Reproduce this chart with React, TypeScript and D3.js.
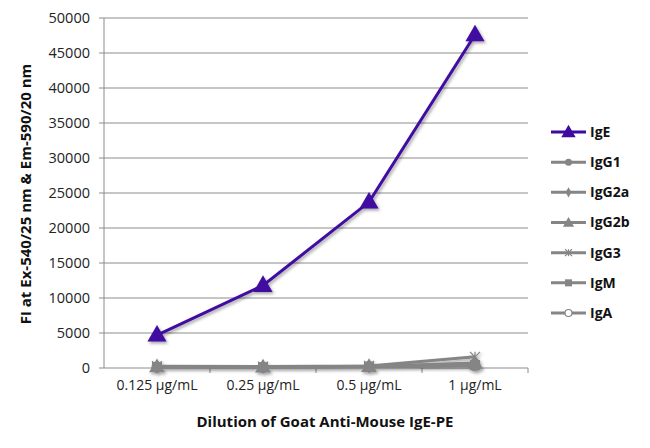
import * as React from "react"
import * as d3 from "d3"

const doses = ["0.125 µg/mL", "0.25 µg/mL", "0.5 µg/mL", "1 µg/mL"]
const igE = [4700, 11800, 23700, 47600]
const igG1 = [200, 150, 250, 500]
const igG2a = [150, 120, 200, 600]
const igG2b = [180, 140, 220, 700]
const igG3 = [250, 200, 300, 1600]
const igM = [150, 120, 200, 400]
const igA = [100, 100, 150, 300]
const yTicks = [0, 5000, 10000, 15000, 20000, 25000, 30000, 35000, 40000, 45000, 50000]

type Marker = "triangle" | "circle" | "diamond" | "star" | "square" | "ring"

const series: { name: string; values: number[]; color: string; marker: Marker }[] = [
  { name: "IgE", values: igE, color: "#3f0aa0", marker: "triangle" },
  { name: "IgG1", values: igG1, color: "#858585", marker: "circle" },
  { name: "IgG2a", values: igG2a, color: "#858585", marker: "diamond" },
  { name: "IgG2b", values: igG2b, color: "#858585", marker: "triangle" },
  { name: "IgG3", values: igG3, color: "#858585", marker: "star" },
  { name: "IgM", values: igM, color: "#858585", marker: "square" },
  { name: "IgA", values: igA, color: "#858585", marker: "ring" },
]

const font = "'Open Sans', 'Noto Sans', sans-serif"

function MarkerShape({ kind, x, y, color, size }: { kind: Marker; x: number; y: number; color: string; size: number }) {
  const s = size
  if (kind === "triangle") {
    const p = d3.symbol(d3.symbolTriangle, s * s * 1.1)()
    return <path d={p!} transform={`translate(${x},${y + 1})`} fill={color} />
  }
  if (kind === "circle") return <circle cx={x} cy={y} r={s / 2} fill={color} />
  if (kind === "diamond") {
    const p = d3.symbol(d3.symbolDiamond, s * s * 0.6)()
    return <path d={p!} transform={`translate(${x},${y})`} fill={color} />
  }
  if (kind === "square") return <rect x={x - s / 2} y={y - s / 2} width={s} height={s} fill={color} />
  if (kind === "ring") return <circle cx={x} cy={y} r={s / 2} fill="#fff" stroke={color} strokeWidth={1.2} />
  const r = s / 2
  return (
    <g stroke={color} strokeWidth={1.2}>
      <line x1={x - r} y1={y - r} x2={x + r} y2={y + r} />
      <line x1={x - r} y1={y + r} x2={x + r} y2={y - r} />
      <line x1={x} y1={y - r} x2={x} y2={y + r} />
    </g>
  )
}

export default function App() {
  const width = 650
  const height = 448
  const left = 104
  const right = 528
  const top = 18
  const bottom = 368

  const x = d3.scaleBand<string>().domain(doses).range([left, right])
  const y = d3.scaleLinear().domain([0, 50000]).range([bottom, top])
  const cx = (d: string) => (x(d) ?? 0) + x.bandwidth() / 2

  const line = d3
    .line<number>()
    .x((_, i) => cx(doses[i]))
    .y((v) => y(v))

  // draw the grey series back to front so the ring sits underneath
  const grays = series.slice(1).reverse()
  const legendY = d3.scalePoint<string>().domain(series.map((s) => s.name)).range([132, 313])

  return (
    <svg width={width} height={height} style={{ position: "absolute", left: 0, top: 0 }} fontFamily={font}>
      <defs>
        <filter id="shadow" x="-10%" y="-10%" width="120%" height="130%">
          <feDropShadow dx="1.5" dy="2" stdDeviation="1.5" floodColor="#000" floodOpacity="0.35" />
        </filter>
      </defs>
      <rect width={width} height={height} fill="#fff" />
      {yTicks.map((t) => (
        <g key={t}>
          <line x1={left - 5} x2={right} y1={y(t)} y2={y(t)} stroke="#8c8c8c" strokeWidth={1} />
          <text x={left - 14} y={y(t)} dy="0.35em" textAnchor="end" fontSize={14.5} fill="#222">
            {t}
          </text>
        </g>
      ))}
      <line x1={left} x2={left} y1={top} y2={bottom} stroke="#8c8c8c" />
      {doses.map((d, i) => (
        <g key={d}>
          <line x1={(x(d) ?? 0) + x.bandwidth()} x2={(x(d) ?? 0) + x.bandwidth()} y1={bottom} y2={bottom + 5} stroke="#8c8c8c" />
          <text x={cx(d)} y={bottom + 22} textAnchor="middle" fontSize={14} fill="#222">
            {doses[i]}
          </text>
        </g>
      ))}
      <text x={325} y={427} textAnchor="middle" fontSize={15} fontWeight="bold" fill="#111">
        Dilution of Goat Anti-Mouse IgE-PE
      </text>
      <text transform={`translate(31,${(top + bottom) / 2 + 1}) rotate(-90)`} textAnchor="middle" fontSize={15} fontWeight="bold" fill="#111">
        FI at Ex-540/25 nm &amp; Em-590/20 nm
      </text>
      <g filter="url(#shadow)">
        {grays.map((s) => (
          <g key={s.name}>
            <path d={line(s.values)!} fill="none" stroke={s.color} strokeWidth={3} />
            {s.values.map((v, i) => (
              <MarkerShape key={i} kind={s.marker} x={cx(doses[i])} y={y(v)} color={s.color} size={10} />
            ))}
          </g>
        ))}
        <path d={line(igE)!} fill="none" stroke={series[0].color} strokeWidth={3} />
        {igE.map((v, i) => (
          <MarkerShape key={i} kind="triangle" x={cx(doses[i])} y={y(v)} color={series[0].color} size={12} />
        ))}
      </g>
      {series.map((s) => {
        const ly = legendY(s.name) ?? 0
        return (
          <g key={s.name}>
            <line x1={551} x2={586} y1={ly} y2={ly} stroke={s.color} strokeWidth={3} />
            <MarkerShape kind={s.marker} x={568.5} y={ly} color={s.color} size={s.name === "IgE" ? 9 : 7} />
            <text x={590} y={ly} dy="0.35em" fontSize={14} fontWeight="bold" fill="#111">
              {s.name}
            </text>
          </g>
        )
      })}
    </svg>
  )
}
